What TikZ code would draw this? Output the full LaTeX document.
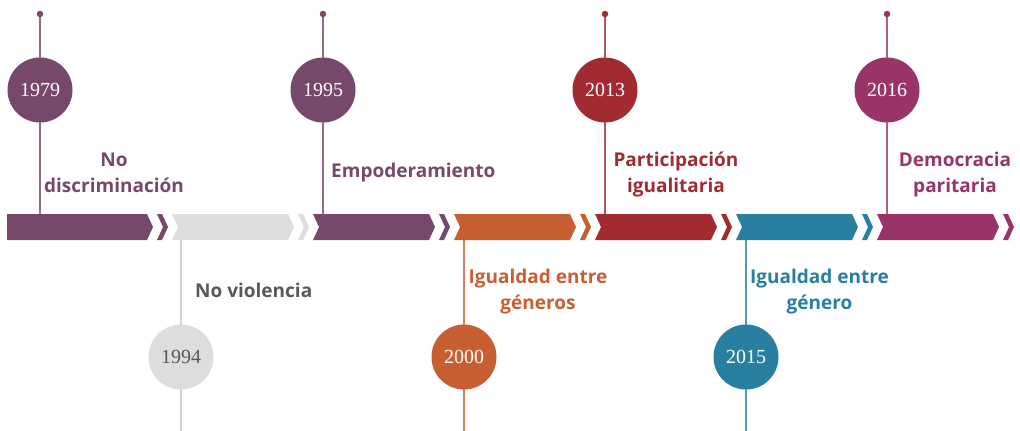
\documentclass[tikz,border=0pt]{standalone}
\usepackage{fontspec}
\setmainfont{Liberation Serif}
\newfontfamily\labfont{Open Sans}
\definecolor{cPur}{HTML}{76486A}
\definecolor{cGry}{HTML}{DCDDDF}
\definecolor{cOra}{HTML}{C85F32}
\definecolor{cRed}{HTML}{A22B32}
\definecolor{cTea}{HTML}{287FA0}
\definecolor{cMag}{HTML}{983468}
\definecolor{cTxt}{HTML}{58585A}
\tikzset{
  yearbub/.style={circle,fill=#1,minimum size=65pt,inner sep=0pt,text=white,font=\fontsize{20}{22}\selectfont},
  pin/.style={line width=1.5pt,draw=#1!80!white},
  dotmk/.style={circle,fill=#1,minimum size=6.5pt,inner sep=0pt},
  lab/.style={text=#1,font=\labfont\bfseries\fontsize{19}{26}\selectfont,align=center,inner sep=0pt},
}
\newcommand\tlseg[2]{%
  \fill[#2] (#1,214) -- (#1+116,214) -- (#1+122,227) -- (#1+116,240) -- (#1,240) -- (#1+6,227) -- cycle;
  \fill[#2] (#1+126,214) -- (#1+131,214) -- (#1+137,227) -- (#1+131,240) -- (#1+126,240) -- (#1+132,227) -- cycle;}
\begin{document}
\begin{tikzpicture}[x=1pt,y=-1pt]
\useasboundingbox (0,0) rectangle (1020,431);
% bar
\fill[cPur] (7,214) -- (147,214) -- (153,227) -- (147,240) -- (7,240) -- cycle;
\fill[cPur] (157,214) -- (162,214) -- (168,227) -- (162,240) -- (157,240) -- (163,227) -- cycle;
\tlseg{172}{cGry}
\tlseg{313}{cPur}
\tlseg{454}{cOra}
\tlseg{595}{cRed}
\tlseg{736}{cTea}
\tlseg{877}{cMag}
% top markers
\foreach \nm/\x/\c in {1979/40/cPur,1995/323/cPur,2013/605/cRed,2016/887/cMag}{
  \coordinate (t\nm) at (\x,14);
  \coordinate (b\nm) at (\x,214);
  \draw[pin=\c] (t\nm) -- (b\nm);
  \node[dotmk=\c] (d\nm) at (t\nm) {};
  \node[yearbub=\c] (y\nm) at (\x,90) {\nm};
}
% bottom markers
\foreach \nm/\x/\c in {2000/464/cOra,2015/746/cTea}{
  \coordinate (t\nm) at (\x,240);
  \coordinate (b\nm) at (\x,431);
  \draw[pin=\c] (t\nm) -- (b\nm);
  \node[yearbub=\c] (y\nm) at (\x,357) {\nm};
}
\coordinate (t1994) at (181,240);
\coordinate (b1994) at (181,431);
\draw[line width=1.5pt,draw=cGry!90!gray] (t1994) -- (b1994);
\node[yearbub=cGry,text=cTxt] (y1994) at (181,357) {1994};
% labels
\node[lab=cPur,anchor=base] (l1979) at (114,192) {No\\discriminación};
\node[lab=cPur,anchor=base west] (l1995) at (331,177) {Empoderamiento};
\node[lab=cRed,anchor=base] (l2013) at (676,192) {Participación\\igualitaria};
\node[lab=cMag,anchor=base] (l2016) at (955,192) {Democracia\\paritaria};
\node[lab=cTxt,anchor=base west] (l1994) at (195,297) {No violencia};
\node[lab=cOra,anchor=base] (l2000) at (538,309) {Igualdad entre\\géneros};
\node[lab=cTea,anchor=base] (l2015) at (819.5,309) {Igualdad entre\\género};
\end{tikzpicture}
\end{document}
